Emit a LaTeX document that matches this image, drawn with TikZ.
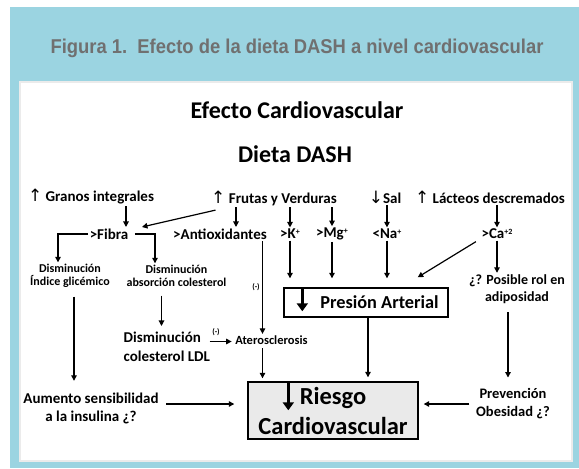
\documentclass[tikz,border=0pt]{standalone}
\usepackage{fontspec}
\setmainfont{Carlito}
\newfontfamily\titulofont{Liberation Sans}
\newfontfamily\flechafont{DejaVu Sans}
\usetikzlibrary{arrows.meta}
\usetikzlibrary{calc}
\definecolor{fondo}{RGB}{155,212,225}
\definecolor{gristit}{RGB}{112,112,112}
\definecolor{cajagris}{RGB}{234,234,234}
\newcommand{\flup}{{\flechafont\mdseries\fontsize{17}{18}\selectfont\char"2191}}
\newcommand{\fldown}{{\flechafont\mdseries\fontsize{17}{18}\selectfont\char"2193}}
\newcommand{\sube}[1]{\raisebox{4.5pt}{\fontsize{8}{9}\selectfont #1}}

\begin{document}
\begin{tikzpicture}[x=1pt,y=-1pt,
  texto/.style={font=\bfseries\fontsize{15}{18}\selectfont,inner sep=1.5pt},
  chico/.style={font=\bfseries\fontsize{12}{13.5}\selectfont,align=center,inner sep=1.5pt},
  medio/.style={font=\bfseries\fontsize{14.5}{18}\selectfont,align=center,inner sep=1.5pt},
  menos/.style={font=\bfseries\fontsize{8}{9}\selectfont,inner sep=0pt},
  flecha/.style={-{Triangle[length=5.5pt,width=5.5pt]},line width=1.2pt},
  gruesa/.style={-{Triangle[length=8pt,width=11pt]},line width=2.6pt},
  caja/.style={draw,line width=1.4pt,inner sep=0pt}]
  \useasboundingbox (0,0) rectangle (579,469);
  \fill[white] (0,0) rectangle (579,469);
  \fill[fondo] (10,7) rectangle (579,468);
  \filldraw[fill=white,draw=black!8,line width=1.5pt] (20,82) rectangle (572,461);
  \node[anchor=base,text=gristit,font=\titulofont\bfseries\fontsize{20}{24}\selectfont] (titulo) at (297,53.5)
    {\scalebox{0.92}[1]{Figura 1.\ \ Efecto de la dieta DASH a nivel cardiovascular}};

  \node[anchor=base,font=\bfseries\fontsize{24}{28}\selectfont] (efecto) at (297,118) {Efecto Cardiovascular};
  \node[anchor=base,font=\bfseries\fontsize{24}{28}\selectfont] (dieta) at (295,162) {Dieta DASH};

  % alimentos
  \node[texto] (granos) at (91,197) {\flup\ Granos integrales};
  \node[texto] (frutas) at (274,198) {\flup\ Frutas y Verduras};
  \node[texto] (sal) at (385,197) {\fldown Sal};
  \node[texto] (lacteos) at (490,197) {\flup\ Lácteos descremados};

  % nutrientes
  \node[texto] (fibra) at (109,234) {>Fibra};
  \node[texto] (antiox) at (220,234) {>Antioxidantes};
  \node[texto] (potasio) at (290,234) {>K\sube{+}};
  \node[texto] (magnesio) at (332,234) {>Mg\sube{+}};
  \node[texto] (sodio) at (387,234) {<Na\sube{+}};
  \node[texto] (calcio) at (497,234) {>Ca\sube{+2}};

  % efectos
  \node[chico] (glicemico) at (70,276) {Disminución\\Índice glicémico};
  \node[chico] (absorcion) at (176.5,276) {Disminución\\absorción colesterol};
  \node[medio,font=\bfseries\fontsize{14}{17}\selectfont] (posible) at (517,289) {¿? Posible rol en\\adiposidad};
  \node[medio,font=\bfseries\fontsize{15}{19}\selectfont,align=left,anchor=west] (ldl) at (122,346.5) {Disminución\\colesterol LDL};
  \node[chico,font=\bfseries\fontsize{12.5}{14}\selectfont] (atero) at (271.5,340) {Aterosclerosis};
  \node[caja,minimum width=164pt,minimum height=29pt,font=\bfseries\fontsize{18.3}{22}\selectfont] (presion) at (366,302.5)
    {\hspace*{27pt}Presión Arterial};
  \node[medio,font=\bfseries\fontsize{15}{18}\selectfont] (aumento) at (91,408) {Aumento sensibilidad\\a la insulina ¿?};
  \node[medio] (prevencion) at (513,404) {Prevención\\Obesidad ¿?};
  \node[caja,fill=cajagris,minimum width=170pt,minimum height=57pt,align=center,font=\bfseries\fontsize{24.5}{30}\selectfont] (riesgo) at (333,410.5)
    {Riesgo\\Cardiovascular};
  \node[menos] (menos1) at (256,287) {(-)};
  \node[menos] (menos2) at (216,332) {(-)};

  % flechas
  \draw[flecha] ($(granos.south)+(35,0)$) -- ($(fibra.north)+(17,0)$);
  \draw[flecha] ($(frutas.south west)+(6,3)$) -- ($(fibra.north east)+(12,0)$);
  \draw[flecha] ($(frutas.south)+(-38,0)$) -- ($(antiox.north)+(16,0)$);
  \draw[flecha] (frutas.south -| potasio.north) -- (potasio.north);
  \draw[flecha] (frutas.south -| magnesio.north) -- (magnesio.north);
  \draw[flecha] (sal.south -| sodio.north) -- (sodio.north);
  \draw[flecha] (lacteos.south -| calcio.north) -- (calcio.north);

  \draw[flecha] (fibra.west) -| ($(glicemico.north)+(-12,0)$);
  \draw[flecha] ($(fibra.east)+(5,0)$) -| ($(absorcion.north)+(-21.5,0)$);
  \draw[flecha] ($(antiox.south -| atero.north)+(-9,0)$) -- ($(atero.north)+(-9,0)$);
  \draw[flecha] (potasio.south) -- ($(potasio.south |- presion.north)+(0,-9)$);
  \draw[flecha] (magnesio.south) -- ($(magnesio.south |- presion.north)+(0,-9)$);
  \draw[flecha] (sodio.south) -- ($(sodio.south |- presion.north)+(0,-9)$);
  \draw[flecha] ($(calcio.south west)+(-4,1)$) -- ($(presion.north east)+(-31,-10)$);
  \draw[flecha] (calcio.south) -- (calcio.south |- posible.north);

  \draw[flecha] ($(absorcion.south)+(-15,7)$) -- ($(absorcion.south |- ldl.north)+(-15,-4)$);
  \draw[flecha] ($(ldl.east)+(-2,-5)$) -- ($(ldl.east -| atero.west)+(-2,-5)$);
  \draw[flecha] ($(glicemico.south)+(4,7)$) -- ($(glicemico.south |- aumento.north)+(4,-10)$);
  \draw[flecha] ($(atero.south)+(-9,2)$) -- ($(atero.south |- riesgo.north)+(-9,-3)$);
  \draw[flecha] ($(presion.south)+(2,0)$) -- ($(presion.south |- riesgo.north)+(2,-4)$);
  \draw[flecha] ($(posible.south)+(-9,7)$) -- ($(posible.south |- prevencion.north)+(-9,-9.5)$);
  \draw[flecha] ($(aumento.east)+(6,-4)$) -- ($(aumento.east -| riesgo.west)+(-13,-4)$);
  \draw[flecha] ($(prevencion.west)+(-5,0)$) -- ($(prevencion.west -| riesgo.east)+(5,0)$);

  % flechas de las cajas
  \draw[gruesa] ($(presion.north west)+(19,0)$) -- ++(0,24);
  \draw[gruesa] ($(riesgo.north west)+(41,1)$) -- ++(0,28);
\end{tikzpicture}
\end{document}
